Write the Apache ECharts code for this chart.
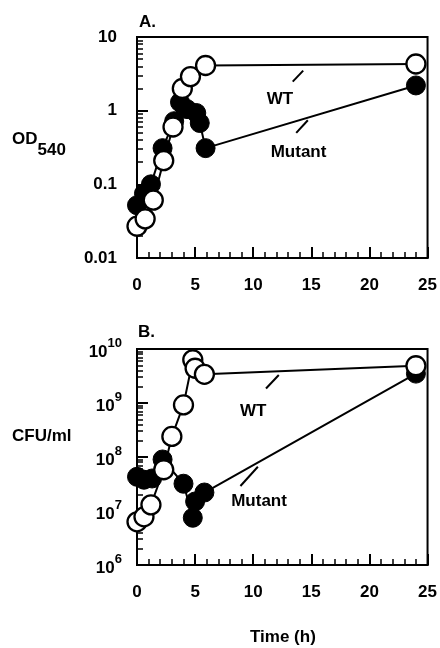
<!DOCTYPE html>
<html><head><meta charset="utf-8">
<script src="https://cdn.jsdelivr.net/npm/echarts@6/dist/echarts.min.js"></script>
<style>html,body{margin:0;padding:0;background:#fff}#c{width:440px;height:648px}</style>
</head><body><div id="c"></div>
<script>
// ---- Data (panel A: OD540) ----
const timeWT_A  = [0, 0.7, 1.4, 2.3, 3.1, 3.9, 4.6, 5.9, 24];
const odWT      = [0.027, 0.034, 0.061, 0.21, 0.6, 2.0, 2.9, 4.1, 4.3];
const timeMut_A = [0, 0.6, 1.2, 2.2, 3.2, 3.7, 4.3, 5.1, 5.4, 5.9, 24];
const odMut     = [0.052, 0.075, 0.1, 0.31, 0.72, 1.3, 1.05, 0.93, 0.68, 0.31, 2.2];
// ---- Data (panel B: CFU/ml) ----
const timeWT_B  = [0, 0.6, 1.2, 2.3, 3.0, 4.0, 4.8, 5.0, 5.8, 24];
const cfuWT     = [6.3e6, 7.8e6, 1.3e7, 5.8e7, 2.4e8, 9.2e8, 6.3e9, 4.4e9, 3.4e9, 4.9e9];
const timeMut_B = [0, 0.6, 1.3, 2.2, 4.0, 4.8, 5.0, 5.8, 24];
const cfuMut    = [4.3e7, 3.8e7, 4.0e7, 9.0e7, 3.2e7, 7.5e6, 1.5e7, 2.2e7, 3.5e9];
// ---- Tick labels ----
const xTicks  = [0, 5, 10, 15, 20, 25];
const yTicksA = ['0.01', '0.1', '1', '10'];
const yExpB   = [6, 7, 8, 9, 10];
// ---- Annotations (data space) ----
const annA = { wtText: [12.3, 1.41], wtPtr: [[13.4, 2.48], [14.3, 3.5]],
               mutText: [13.9, 0.27], mutPtr: [[13.7, 0.5], [14.7, 0.74]] };
const annB = { wtText: [10.0, 6.9e8], wtPtr: [[11.1, 1.86e9], [12.2, 3.3e9]],
               mutText: [10.5, 1.48e7], mutPtr: [[8.9, 2.9e7], [10.4, 6.6e7]] };

const FONT = '"Liberation Sans", Arial, Helvetica, sans-serif';
const zip = (a, b) => a.map((v, i) => [v, b[i]]);
function minorLog(lo, hi) {
  const out = [];
  for (let e = lo; e < hi; e++) for (let k = 2; k <= 9; k++) out.push(e + Math.log10(k));
  return out;
}
const txt = { fontFamily: FONT, fontWeight: 'bold', fontSize: 17, color: '#000' };

function xAxis(gi) {
  return {
    type: 'value', gridIndex: gi, min: 0, max: 25, interval: 5,
    axisLine: { show: true, onZero: false, lineStyle: { color: '#000', width: 2 } },
    axisTick: { show: true, inside: true, length: 11, lineStyle: { color: '#000', width: 2 } },
    minorTick: { show: true, splitNumber: 5, length: 6, lineStyle: { color: '#000', width: 1.5 } },
    axisLabel: Object.assign({ margin: 19, formatter: v => xTicks.includes(v) ? String(v) : '' }, txt),
    splitLine: { show: false }, minorSplitLine: { show: false }
  };
}
function ann(a) {
  return {
    markLine: {
      silent: true, symbol: ['none', 'none'], animation: false,
      lineStyle: { color: '#000', width: 2, type: 'solid' }, label: { show: false },
      data: [[{ coord: a.wtPtr[0] }, { coord: a.wtPtr[1] }], [{ coord: a.mutPtr[0] }, { coord: a.mutPtr[1] }]]
    },
    markPoint: {
      silent: true, symbol: 'circle', symbolSize: 0, animation: false,
      label: Object.assign({ show: true, position: 'inside' }, txt),
      data: [{ coord: a.wtText, value: 'WT', label: { formatter: 'WT' } },
             { coord: a.mutText, value: 'Mutant', label: { formatter: 'Mutant' } }]
    }
  };
}
function series(name, xi, yi, data, open, extra) {
  return Object.assign({
    name, type: 'line', xAxisIndex: xi, yAxisIndex: yi, data,
    symbol: 'circle', symbolSize: 19, showSymbol: true, animation: false,
    lineStyle: { color: '#000', width: 2 },
    itemStyle: open ? { color: '#fff', borderColor: '#000', borderWidth: 2.3 } : { color: '#000', borderColor: '#000', borderWidth: 1 },
    z: open ? 3 : 2
  }, extra || {});
}

const chart = echarts.init(document.getElementById('c'), null, { renderer: 'canvas' });
chart.setOption({
  animation: false,
  backgroundColor: '#fff',
  grid: [
    { left: 137, top: 37, width: 292, height: 221, show: true, borderColor: '#000', borderWidth: 2 },
    { left: 137, top: 349, width: 292, height: 216, show: true, borderColor: '#000', borderWidth: 2 }
  ],
  xAxis: [xAxis(0), xAxis(1)],
  yAxis: [
    { type: 'log', gridIndex: 0, logBase: 10, min: 0.01, max: 10,
      axisLine: { show: true, onZero: false, lineStyle: { color: '#000', width: 2 } },
      axisTick: { show: true, inside: true, length: 11, lineStyle: { color: '#000', width: 2 } },
      axisLabel: Object.assign({ margin: 20, formatter: v => {
        const i = Math.round(Math.log10(v)) + 2; return yTicksA[i] || ''; } }, txt),
      splitLine: { show: false } },
    { type: 'value', gridIndex: 0, min: -2, max: 1, position: 'left',
      axisLine: { show: false, onZero: false }, axisLabel: { show: false }, splitLine: { show: false },
      axisTick: { show: true, inside: true, length: 6, customValues: minorLog(-2, 1), lineStyle: { color: '#000', width: 1.5 } } },
    { type: 'log', gridIndex: 1, logBase: 10, min: 1e6, max: 1e10,
      axisLine: { show: true, onZero: false, lineStyle: { color: '#000', width: 2 } },
      axisTick: { show: true, inside: true, length: 11, lineStyle: { color: '#000', width: 2 } },
      axisLabel: { margin: 15, formatter: v => {
          const e = Math.round(Math.log10(v)); return yExpB.includes(e) ? '{b|10}{s|' + e + '}' : ''; },
        rich: { b: Object.assign({ lineHeight: 24, verticalAlign: 'bottom' }, txt),
                s: Object.assign({}, txt, { fontSize: 13, lineHeight: 24, verticalAlign: 'top' }) } },
      splitLine: { show: false } },
    { type: 'value', gridIndex: 1, min: 6, max: 10, position: 'left',
      axisLine: { show: false, onZero: false }, axisLabel: { show: false }, splitLine: { show: false },
      axisTick: { show: true, inside: true, length: 6, customValues: minorLog(6, 10), lineStyle: { color: '#000', width: 1.5 } } }
  ],
  series: [
    series('Mutant', 0, 0, zip(timeMut_A, odMut), false, ann(annA)),
    series('WT', 0, 0, zip(timeWT_A, odWT), true),
    series('Mutant', 1, 2, zip(timeMut_B, cfuMut), false, ann(annB)),
    series('WT', 1, 2, zip(timeWT_B, cfuWT), true)
  ],
  graphic: [
    { type: 'text', left: 139, top: 14, style: { text: 'A.', font: 'bold 17px ' + FONT, fill: '#000' } },
    { type: 'text', left: 138, top: 324, style: { text: 'B.', font: 'bold 17px ' + FONT, fill: '#000' } },
    { type: 'text', left: 12, top: 131, style: { text: '{a|OD}{s|540}', font: 'bold 17px ' + FONT, fill: '#000',
        rich: { a: { fontFamily: FONT, fontWeight: 'bold', fontSize: 17, lineHeight: 28, verticalAlign: 'top' },
                s: { fontFamily: FONT, fontWeight: 'bold', fontSize: 17, lineHeight: 28, verticalAlign: 'bottom' } } } },
    { type: 'text', left: 12, top: 428, style: { text: 'CFU/ml', font: 'bold 17px ' + FONT, fill: '#000' } },
    { type: 'text', left: 250, top: 629, style: { text: 'Time (h)', font: 'bold 17px ' + FONT, fill: '#000' } }
  ]
});
</script></body></html>
